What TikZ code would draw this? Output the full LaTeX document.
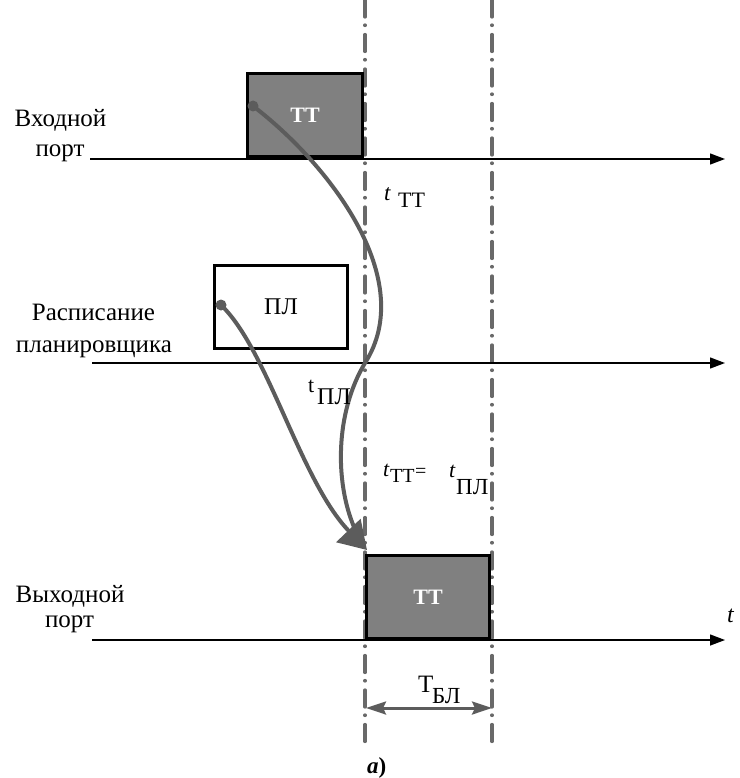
\documentclass[tikz,border=0pt]{standalone}
\usepackage{fontspec}
\setmainfont{Liberation Serif}
\usetikzlibrary{arrows.meta}

\definecolor{flowgray}{RGB}{92,92,92}
\definecolor{guidegray}{RGB}{105,105,105}
\definecolor{slotfill}{RGB}{128,128,128}

\newcommand{\fs}[1]{\fontsize{#1}{#1}\selectfont}

\begin{document}
\begin{tikzpicture}[x=1pt,y=-1pt,
  axisline/.style={line width=1.3pt,-{Triangle[length=15pt,width=11pt]}},
  guide/.style={draw=guidegray,line width=3.3pt,line cap=round,
    dash pattern=on 17pt off 8pt on 0.5pt off 9pt},
  slot/.style={draw=black,line width=3pt,fill=slotfill,inner sep=0pt,
    font=\fs{22}\bfseries,text=white},
  plbox/.style={draw=black,line width=3pt,fill=white,inner sep=0pt,font=\fs{24}},
  flow/.style={draw=flowgray,line width=4pt},
  dot/.style={circle,fill=flowgray,inner sep=0pt,minimum size=11pt},
  dim/.style={draw=flowgray,line width=3pt,
    {Stealth[length=20pt,width=13pt,inset=3pt]}-{Stealth[length=20pt,width=13pt,inset=3pt]}},
  lbl/.style={inner sep=0pt,font=\fs{25}},
  txt/.style={inner sep=0pt,anchor=base west}
]
\useasboundingbox (0,0) rectangle (739,778);

% time reference lines
\coordinate (gLtop) at (365,0);
\coordinate (gLbot) at (365,742);
\coordinate (gRtop) at (492,0);
\coordinate (gRbot) at (492,742);
\draw[guide] (gLtop) -- (gLbot);
\draw[guide] (gRtop) -- (gRbot);

% time axes
\coordinate (inS) at (90,159);   \coordinate (inE) at (725,159);
\coordinate (schS) at (92,363);  \coordinate (schE) at (725,363);
\coordinate (outS) at (92,640);  \coordinate (outE) at (725,640);
\draw[axisline] (inS) -- (inE);
\draw[axisline] (schS) -- (schE);
\draw[axisline] (outS) -- (outE);

% slots
\node[slot,minimum width=115pt,minimum height=83pt] (ttin) at (305,115) {ТТ};
\node[plbox,minimum width=133pt,minimum height=83pt] (pl) at (281,307) {ПЛ};
\node[slot,minimum width=123pt,minimum height=83pt] (ttout) at (428,597) {ТТ};

% flow curves
\node[dot] (ttdot) at (253,106) {};
\node[dot] (pldot) at (221,305) {};
\coordinate (tip) at (367,550);
\coordinate (ttmid) at (365,363);
\coordinate (ttend) at (354,527);
\draw[flow,line cap=round] (ttdot.center) .. controls (330,165) and (418,280) .. (ttmid)
  .. controls (335,413) and (335,482) .. (ttend);
\draw[flow,-{Triangle[length=27pt,width=33pt]}] (pldot.center)
  .. controls (268,350) and (300,480) .. (tip);

% duration
\coordinate (dL) at (366,708);
\coordinate (dR) at (492,708);
\draw[dim] (dL) -- (dR);

% row labels
\node[lbl,anchor=base] (inA) at (60.5,127) {Входной};
\node[lbl,anchor=base] (inB) at (60,157) {порт};
\node[lbl,anchor=base] (schA) at (93.5,320) {Расписание};
\node[lbl,anchor=base] (schB) at (94,352) {планировщика};
\node[lbl,anchor=base] (outA) at (70,602) {Выходной};
\node[lbl,anchor=base] (outB) at (69.5,627) {порт};

% time labels
\node[txt,font=\fs{23}\itshape] (t1a) at (384,200) {t};
\node[txt,font=\fs{22}] (t1b) at (398,207) {ТТ};

\node[txt,font=\fs{22}] (t2a) at (308,392) {t};
\node[txt,font=\fs{24}] (t2b) at (317,404) {ПЛ};

\node[txt,font=\fs{22}\itshape] (t3a) at (383,476) {t};
\node[txt,font=\fs{20}] (t3b) at (390,482) {ТТ};
\node[txt,font=\fs{20}] (t3c) at (415,477) {=};
\node[txt,font=\fs{22}\itshape] (t3d) at (449,477) {t};
\node[txt,font=\fs{23}] (t3e) at (456,494) {ПЛ};

\node[txt,font=\fs{25}] (tbA) at (418,692) {Т};
\node[txt,font=\fs{23}] (tbB) at (432,703) {БЛ};

\node[txt,font=\fs{24}\itshape] (taxis) at (727,622) {t};

\node[txt,font=\fs{23}\bfseries] (cap) at (367,773) {\textit{a})};
\end{tikzpicture}
\end{document}
